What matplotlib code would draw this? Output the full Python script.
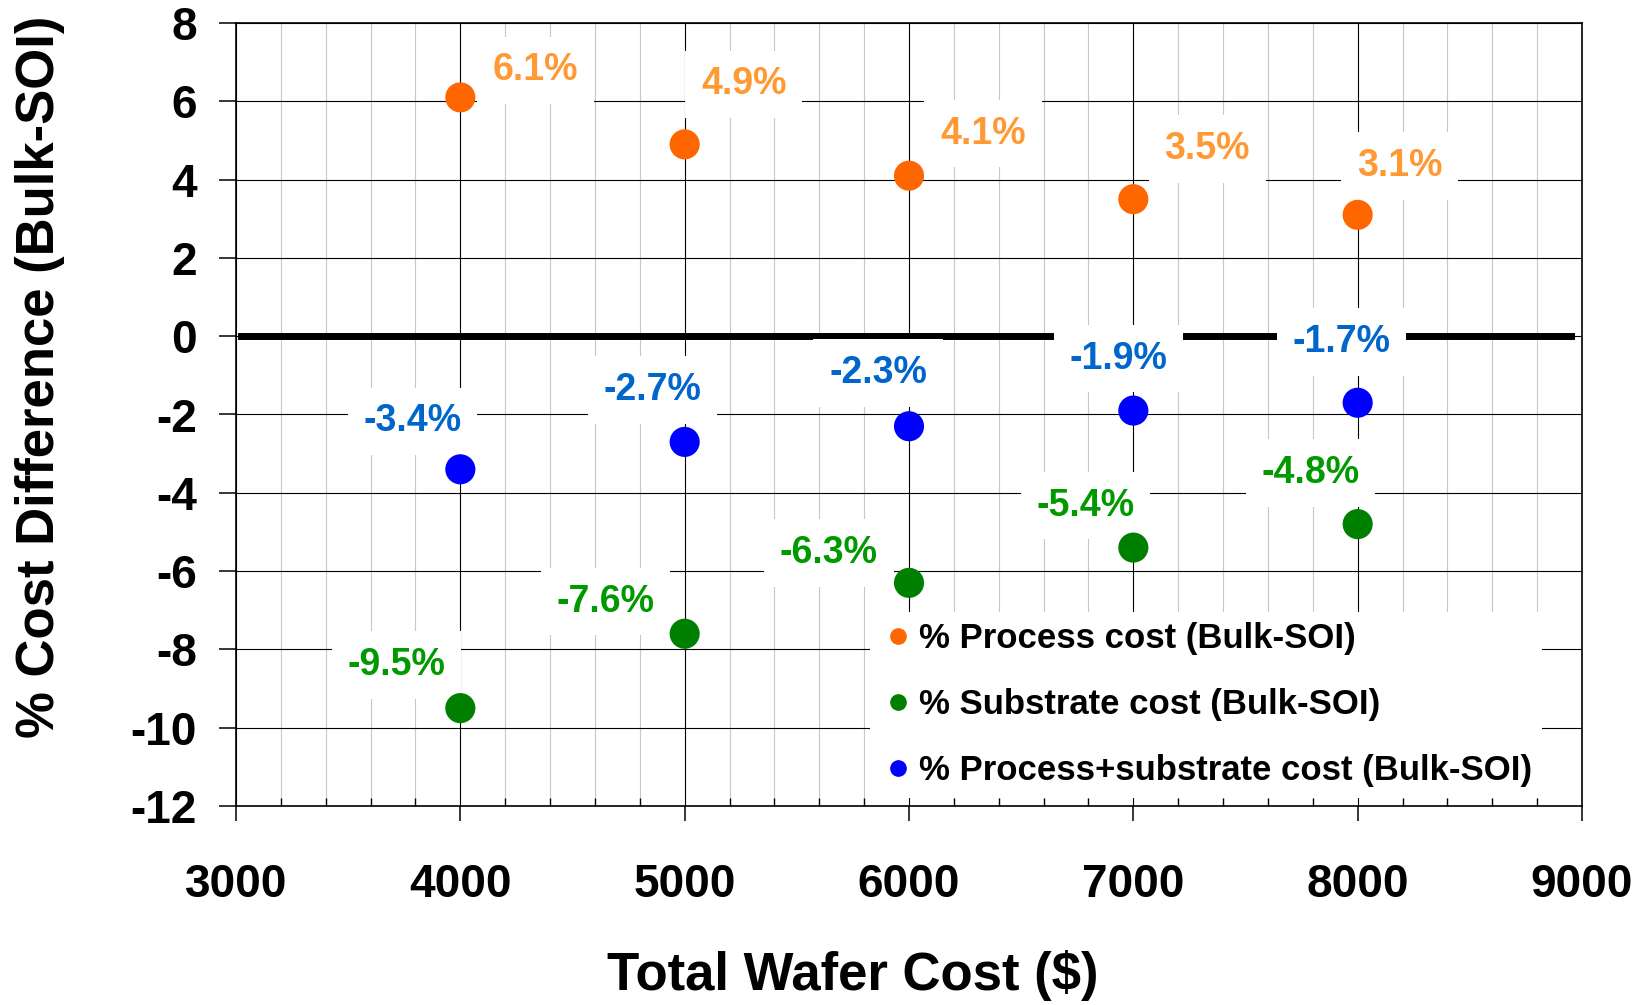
import matplotlib
matplotlib.use("Agg")
import matplotlib.pyplot as plt
from matplotlib.lines import Line2D
from matplotlib.ticker import MultipleLocator

plt.rcParams["font.family"] = ["Liberation Sans", "DejaVu Sans"]
plt.rcParams["font.weight"] = "bold"
plt.rcParams["axes.unicode_minus"] = False


# Data

wafer_cost = [4000, 5000, 6000, 7000, 8000]
process_diff = [6.1, 4.9, 4.1, 3.5, 3.1]
substrate_diff = [-9.5, -7.6, -6.3, -5.4, -4.8]
total_diff = [-3.4, -2.7, -2.3, -1.9, -1.7]

series_names = [
    "% Process cost (Bulk-SOI)",
    "% Substrate cost (Bulk-SOI)",
    "% Process+substrate cost (Bulk-SOI)",
]

# label offsets from each point, in pixels (dx right, dy up)
process_offsets = [(75, 27), (59, 60), (74, 42), (74, 50), (42, 49)]
substrate_offsets = [(-64, 43), (-79, 32), (-80, 30), (-48, 42), (-47, 51)]
total_offsets = [(-48, 48), (-32, 52), (-31, 53), (-15, 52), (-16, 61)]

marker_colors = ["#FF6600", "#008000", "#0000FF"]
label_colors = ["#FF9933", "#009900", "#0066CC"]

W, H, DPI = 1652, 1005, 100
PX = 72.0 / DPI

fig = plt.figure(figsize=(W / DPI, H / DPI), dpi=DPI)
ax = fig.add_axes([236 / W, 1 - 806 / H, (1582 - 236) / W, (806 - 23) / H])

ax.set_xlim(3000, 9000)
ax.set_ylim(-12, 8)

# grid
ax.xaxis.set_major_locator(MultipleLocator(1000))
ax.xaxis.set_minor_locator(MultipleLocator(200))
ax.yaxis.set_major_locator(MultipleLocator(2))
ax.grid(which="major", axis="both", color="black", lw=0.8, zorder=0)
ax.grid(which="minor", axis="x", color="#c8c8c8", lw=0.8, zorder=0)
ax.set_axisbelow(True)

for sp in ax.spines.values():
    sp.set_linewidth(1.2)
    sp.set_zorder(6)

ax.tick_params(axis="x", which="major", direction="out", length=11, width=1.1,
               pad=30, labelsize=33)
ax.tick_params(axis="x", which="minor", direction="in", length=6, width=1.0)
ax.tick_params(axis="y", which="major", direction="out", length=12, width=1.1,
               pad=16, labelsize=33)
for lbl in ax.get_xticklabels() + ax.get_yticklabels():
    lbl.set_fontweight("bold")

# heavy zero line
ax.axhline(0, xmin=0.004, xmax=0.992, color="black", lw=5, zorder=2)

all_series = [
    (process_diff, process_offsets),
    (substrate_diff, substrate_offsets),
    (total_diff, total_offsets),
]
for (vals, offs), mc, lc in zip(all_series, marker_colors, label_colors):
    ax.scatter(wafer_cost, vals, s=470, color=mc, edgecolors="none",
               zorder=5, clip_on=False)
    for x, y, (dx, dy) in zip(wafer_cost, vals, offs):
        ax.annotate(f"{y:.1f}%", (x, y), xytext=(dx * PX, dy * PX),
                    textcoords="offset points", ha="center", va="center",
                    fontsize=27, fontweight="bold", color=lc, zorder=3,
                    bbox=dict(boxstyle="square,pad=0.42", fc="white",
                              ec="none"))

handles = [Line2D([], [], marker="o", ls="none", color=c, markersize=11)
           for c in marker_colors]
leg = ax.legend(handles, series_names, loc="upper left",
                bbox_to_anchor=(870 / W, 1 - 612 / H),
                bbox_transform=fig.transFigure,
                prop=dict(size=25, weight="bold"),
                frameon=True, framealpha=1, edgecolor="none",
                fancybox=False, handletextpad=0.1, handlelength=1.0,
                labelspacing=0.95, borderpad=0.3, borderaxespad=0)
leg.set_zorder(4)

fig.text(853 / W, 1 - 975 / H, "Total Wafer Cost ($)", ha="center",
         va="center", fontsize=38, fontweight="bold")
fig.text(40 / W, 1 - 377 / H, "% Cost Difference (Bulk-SOI)", ha="center",
         va="center", rotation=90, fontsize=38, fontweight="bold")

fig.savefig("out.png", dpi=DPI)
